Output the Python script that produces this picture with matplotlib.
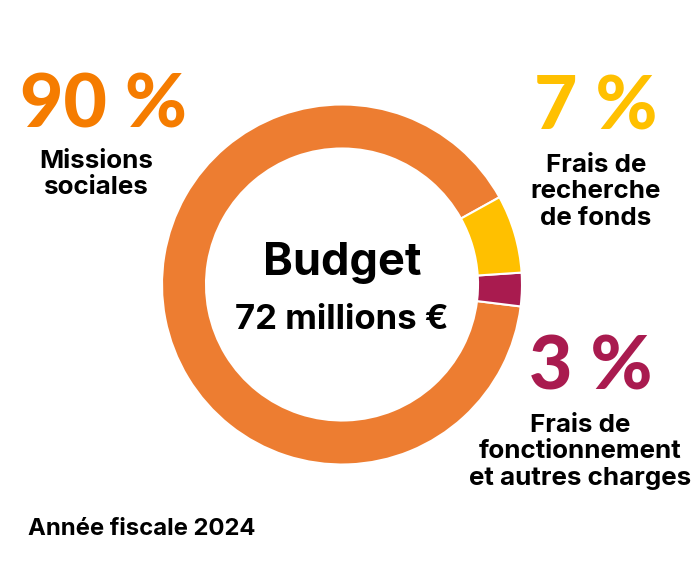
import matplotlib
matplotlib.use("Agg")
import matplotlib.pyplot as plt

# ---- data ----
categories = ["Missions sociales", "Frais de fonctionnement et autres charges", "Frais de recherche de fonds"]
values = [90, 3, 7]
pct_labels = ["90 %", "3 %", "7 %"]
wedge_colors = ["#ED7D31", "#A91B4F", "#FFC000"]
pct_colors = ["#F57C00", "#A91B4F", "#FFC000"]
label_lines = [["Missions", "sociales"],
               ["Frais de", "fonctionnement", "et autres charges"],
               ["Frais de", "recherche", "de fonds"]]
center_title = "Budget"
center_sub = "72 millions €"
footer = "Année fiscale 2024"

W, H = 699, 570
fig = plt.figure(figsize=(W / 100, H / 100), dpi=100)
ax = fig.add_axes([0, 0, 1, 1])

cx, cy = 342, H - 284.5
ax.pie(values, colors=wedge_colors, startangle=29, counterclock=True,
       center=(cx, cy), radius=180,
       wedgeprops=dict(width=44, edgecolor="white", linewidth=1.5))
ax.set_xlim(0, W)
ax.set_ylim(0, H)
ax.set_aspect("equal")
ax.axis("off")

FAM = ["Inter", "DejaVu Sans"]
PFAM = ["Lato", "DejaVu Sans"]

def y(px):
    return H - px

# percent labels: (x center, baseline)
pct_pos = [(104, 128), (591, 390), (596, 130)]
lbl_pos = [(96, 168), (580, 432), (596, 172)]
for i in range(3):
    px, pb = pct_pos[i]
    ax.text(px, y(pb), pct_labels[i], color=pct_colors[i], fontsize=54,
            fontweight=900, family=PFAM, ha="center", va="baseline")
    lx, lb = lbl_pos[i]
    for j, line in enumerate(label_lines[i]):
        ax.text(lx, y(lb + j * 26.5), line, color="black", fontsize=18.7,
                fontweight=700, family=FAM, ha="center", va="baseline")

ax.text(cx, y(275), center_title, fontsize=32.5, fontweight=700, family=FAM,
        ha="center", va="baseline", color="black")
ax.text(cx, y(329), center_sub, fontsize=25, fontweight=700, family=FAM,
        ha="center", va="baseline", color="black")
ax.text(28, y(535), footer, fontsize=17.2, fontweight=700, family=FAM,
        ha="left", va="baseline", color="black")

fig.savefig("out.png", dpi=100, facecolor="white")
